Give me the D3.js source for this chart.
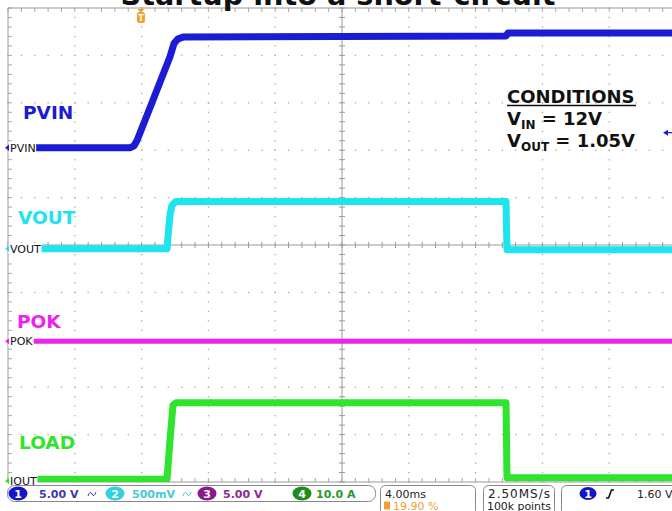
<!DOCTYPE html>
<html><head><meta charset="utf-8">
<script src="https://cdn.jsdelivr.net/npm/d3@7"></script>
<style>body{margin:0;background:#fff;overflow:hidden} svg{display:block}</style>
</head><body>
<svg id="c" width="672" height="511"></svg>
<script>
// ---------- DATA ----------
const title = "Startup into a short-circuit";
const timeDomainMs = [-7.96, 32.04];          // 4 ms/div, trigger at 19.90 %
const channelNames = ["PVIN", "VOUT", "POK", "IOUT"];
const channelBigLabels = ["PVIN", "VOUT", "POK", "LOAD"];
const channelScales = [5, 0.5, 5, 10];          // units per division
const channelOffsets = [2.05, -0.08, -2.03, -4.98]; // ground position (divisions from centre)
const channelReadouts = ["5.00 V", "500mV", "5.00 V", "10.0 A"];

const pvinTime = [-7.96, -0.66, -0.42, -0.24, 0.66, 1.74, 1.98, 2.22, 2.57, 21.86, 21.98, 32.04];
const pvinVolts = [0, 0, 0.21, 0.74, 4.75, 9.6, 11.0, 11.5, 11.7, 11.8, 12.1, 12.1];
const voutTime = [-7.96, 1.56, 1.74, 1.86, 2.1, 21.86, 21.92, 32.04];
const voutVolts = [0, 0, 0.36, 0.46, 0.5, 0.5, -0.01, -0.01];
const pokTime = [-7.96, 32.04];
const pokVolts = [0, 0];
const loadTime = [-7.96, 1.56, 1.74, 1.92, 2.1, 21.86, 21.92, 32.04];
const loadAmps = [0.4, 0.4, 8.6, 16.0, 16.5, 16.5, 0.7, 0.7];

const conditionLines = [["V", "IN", " = 12V"], ["V", "OUT", " = 1.05V"]];
const timebase = "4.00ms";
const triggerPos = "19.90 %";
const sampleRate = "2.50MS/s";
const recordLength = "100k points";
const triggerLevel = 1.60;
const triggerLevelText = "1.60 V";

// ---------- STYLE ----------
const traceColors = ["#1c1cd4", "#1ee4ee", "#ee22ee", "#2ee42e"];
const readoutText = ["#3a3aaa", "#48c8d8", "#8a2a8a", "#2a9a2a"];
const badgeColors = ["#1414c8", "#30d2e2", "#8a1a8a", "#1e8c1e"];

const svg = d3.select("#c");
const L = 8, T = 8, W = 668, H = 474;
const xDiv = d3.scaleLinear().domain([0, 10]).range([L, L + W]);
const yDiv = d3.scaleLinear().domain([-5, 5]).range([T + H, T]);
const x = d3.scaleLinear().domain(timeDomainMs).range([L, L + W]);
const yCh = (i, v) => yDiv(channelOffsets[i] + v / channelScales[i]);

// ---------- GRATICULE ----------
const g = svg.append("g");
for (let i = 1; i < 10; i++) {
  if (i === 5) continue;
  for (let j = 0; j <= 50; j++) {
    g.append("rect").attr("x", xDiv(i) - 0.6).attr("y", yDiv(-5 + j * 0.2) - 0.6)
      .attr("width", 1.3).attr("height", 1.3).attr("fill", "#a8a8a8");
  }
}
for (let k = -4; k <= 4; k++) {
  if (k === 0) continue;
  for (let j = 0; j <= 50; j++) {
    g.append("rect").attr("x", xDiv(j * 0.2) - 0.6).attr("y", yDiv(k) - 0.6)
      .attr("width", 1.3).attr("height", 1.3).attr("fill", "#a8a8a8");
  }
}
// centre cross with ticks
g.append("line").attr("x1", xDiv(5)).attr("x2", xDiv(5)).attr("y1", T).attr("y2", T + H).attr("stroke", "#9a9a9a");
g.append("line").attr("x1", L).attr("x2", L + W).attr("y1", yDiv(0)).attr("y2", yDiv(0)).attr("stroke", "#9a9a9a");
for (let j = 0; j <= 50; j++) {
  const yy = yDiv(-5 + j * 0.2), xx = xDiv(j * 0.2);
  g.append("line").attr("x1", xDiv(5) - 3).attr("x2", xDiv(5) + 3).attr("y1", yy).attr("y2", yy).attr("stroke", "#9a9a9a");
  g.append("line").attr("x1", xx).attr("x2", xx).attr("y1", yDiv(0) - 3).attr("y2", yDiv(0) + 3).attr("stroke", "#9a9a9a");
  // border ticks
  g.append("line").attr("x1", L).attr("x2", L + 4).attr("y1", yy).attr("y2", yy).attr("stroke", "#aaa");
  g.append("line").attr("x1", xx).attr("x2", xx).attr("y1", T).attr("y2", T + 4).attr("stroke", "#aaa");
  g.append("line").attr("x1", xx).attr("x2", xx).attr("y1", T + H - 4).attr("y2", T + H).attr("stroke", "#aaa");
}
g.append("line").attr("x1", L).attr("x2", L).attr("y1", T).attr("y2", T + H).attr("stroke", "#999");
g.append("line").attr("x1", L).attr("x2", L + W).attr("y1", T).attr("y2", T).attr("stroke", "#999");
g.append("line").attr("x1", L).attr("x2", L + W).attr("y1", T + H).attr("y2", T + H).attr("stroke", "#999");

// ---------- TRACES ----------
svg.append("clipPath").attr("id", "clip").append("rect").attr("x", L).attr("y", T).attr("width", W).attr("height", H);
const series = [
  d3.zip(pvinTime, pvinVolts),
  d3.zip(voutTime, voutVolts),
  d3.zip(pokTime, pokVolts),
  d3.zip(loadTime, loadAmps)
];
const widths = [7, 7, 5, 7];
const tg = svg.append("g").attr("clip-path", "url(#clip)");
series.forEach((s, i) => {
  const line = d3.line().x(d => x(d[0])).y(d => yCh(i, d[1]));
  tg.append("path").attr("d", line(s)).attr("fill", "none")
    .attr("stroke", traceColors[i]).attr("stroke-width", widths[i]).attr("stroke-linejoin", "round");
});

// ground markers
channelNames.forEach((n, i) => {
  const yy = yCh(i, 0);
  const t = svg.append("text").attr("x", 10).attr("y", yy + 4).text(n)
    .attr("font-family", "DejaVu Sans").attr("font-size", 11).attr("fill", "#111");
  const bb = t.node().getBBox();
  svg.insert("rect", "text").attr("x", 8.5).attr("y", yy - 6).attr("width", bb.width + 2).attr("height", 12).attr("fill", "#fff");
  svg.append("path").attr("d", `M${5},${yy} L${9},${yy - 3} L${9},${yy + 3} Z`).attr("fill", traceColors[i]);
});
// big labels
const bigPos = [[23, 119], [18, 224], [17, 328], [19, 449]];
channelBigLabels.forEach((n, i) => {
  svg.append("text").attr("x", bigPos[i][0]).attr("y", bigPos[i][1]).text(n)
    .attr("font-family", "DejaVu Sans").attr("font-weight", "bold").attr("font-size", 18.5).attr("fill", traceColors[i]);
});

// trigger level marker (right edge)
const ty = yCh(0, triggerLevel);
svg.append("path").attr("d", `M663,${ty} L668,${ty - 3} L668,${ty + 3} Z M667,${ty - 0.7} h6 v1.4 h-6 Z`).attr("fill", traceColors[0]);

// trigger position marker
const tx = x(0);
svg.append("path").attr("d", `M${tx - 3.5},9 L${tx + 3.5},9 L${tx},13 Z`).attr("fill", "#f0a030");
svg.append("rect").attr("x", tx - 4).attr("y", 12).attr("width", 8).attr("height", 11).attr("rx", 2.5).attr("fill", "#f0a030");
svg.append("text").attr("x", tx).attr("y", 21).attr("text-anchor", "middle").text("T")
  .attr("font-family", "DejaVu Sans").attr("font-weight", "bold").attr("font-size", 8).attr("fill", "#fff");

// title
svg.append("text").attr("x", 338).attr("y", 5).attr("text-anchor", "middle").text(title)
  .attr("font-family", "DejaVu Sans").attr("font-weight", "bold").attr("font-size", 28)
  .attr("textLength", 435).attr("lengthAdjust", "spacingAndGlyphs").attr("fill", "#111");

// conditions
svg.append("text").attr("x", 507).attr("y", 103).text("CONDITIONS")
  .attr("font-family", "DejaVu Sans").attr("font-weight", "bold").attr("font-size", 18).attr("fill", "#111");
svg.append("line").attr("x1", 507).attr("x2", 636).attr("y1", 105.5).attr("y2", 105.5).attr("stroke", "#111").attr("stroke-width", 1.6);
conditionLines.forEach((c, i) => {
  const t = svg.append("text").attr("x", 507).attr("y", 125 + i * 22)
    .attr("font-family", "DejaVu Sans").attr("font-weight", "bold").attr("font-size", 18).attr("fill", "#111");
  t.append("tspan").text(c[0]);
  t.append("tspan").text(c[1]).attr("font-size", 12).attr("dy", 4);
  t.append("tspan").text(c[2]).attr("dy", -4);
});

// ---------- STATUS BAR ----------
const sb = svg.append("g").attr("font-family", "DejaVu Sans").attr("font-size", 11);
sb.append("rect").attr("x", 7.5).attr("y", 485.5).attr("width", 368).attr("height", 16).attr("rx", 7).attr("fill", "#fff").attr("stroke", "#888");
sb.append("rect").attr("x", 380.5).attr("y", 485.5).attr("width", 95).attr("height", 30).attr("rx", 5).attr("fill", "#fff").attr("stroke", "#888");
sb.append("rect").attr("x", 483.5).attr("y", 485.5).attr("width", 71).attr("height", 30).attr("rx", 5).attr("fill", "#fff").attr("stroke", "#888");
sb.append("rect").attr("x", 561.5).attr("y", 485.5).attr("width", 120).attr("height", 30).attr("rx", 5).attr("fill", "#fff").attr("stroke", "#888");

const badgeX = [18, 115, 207, 302];
const readX = [39, 132, 223, 316];
channelReadouts.forEach((r, i) => {
  sb.append("ellipse").attr("cx", badgeX[i]).attr("cy", 493.5).attr("rx", 9.5).attr("ry", 7).attr("fill", badgeColors[i]);
  sb.append("text").attr("x", badgeX[i]).attr("y", 497.5).attr("text-anchor", "middle").text(String(i + 1))
    .attr("fill", "#fff").attr("font-weight", "bold").attr("font-size", 11);
  sb.append("text").attr("x", readX[i]).attr("y", 497.5).text(r).attr("fill", readoutText[i]).attr("font-weight", "bold");
});
// bandwidth-limit symbols
[88, 183].forEach((sx, i) => {
  sb.append("path").attr("d", `M${sx},496 q2,-6 4,-2 t4,-2`).attr("fill", "none").attr("stroke", readoutText[i]).attr("stroke-width", 1);
  sb.append("text").attr("x", sx + 6).attr("y", 497).text("").attr("font-size", 6);
});
sb.append("text").attr("x", 385).attr("y", 497.5).text(timebase).attr("fill", "#222");
sb.append("rect").attr("x", 384).attr("y", 501.5).attr("width", 6).attr("height", 8).attr("fill", "#f0a030");
sb.append("text").attr("x", 393).attr("y", 509.5).text(triggerPos).attr("fill", "#f0a030");
sb.append("text").attr("x", 488).attr("y", 497.5).text(sampleRate).attr("fill", "#222").attr("font-size", 12).attr("textLength", 62);
sb.append("text").attr("x", 487).attr("y", 509.5).text(recordLength).attr("fill", "#222").attr("textLength", 64);
sb.append("ellipse").attr("cx", 588).attr("cy", 493.5).attr("rx", 8.5).attr("ry", 6.5).attr("fill", badgeColors[0]);
sb.append("text").attr("x", 588).attr("y", 497.5).attr("text-anchor", "middle").text("1").attr("fill", "#fff").attr("font-weight", "bold");
sb.append("path").attr("d", "M606,498 h2.5 l3,-8 h2.5").attr("fill", "none").attr("stroke", "#111").attr("stroke-width", 1.6);
sb.append("text").attr("x", 637).attr("y", 497.5).text(triggerLevelText).attr("fill", "#222");
</script>
</body></html>
